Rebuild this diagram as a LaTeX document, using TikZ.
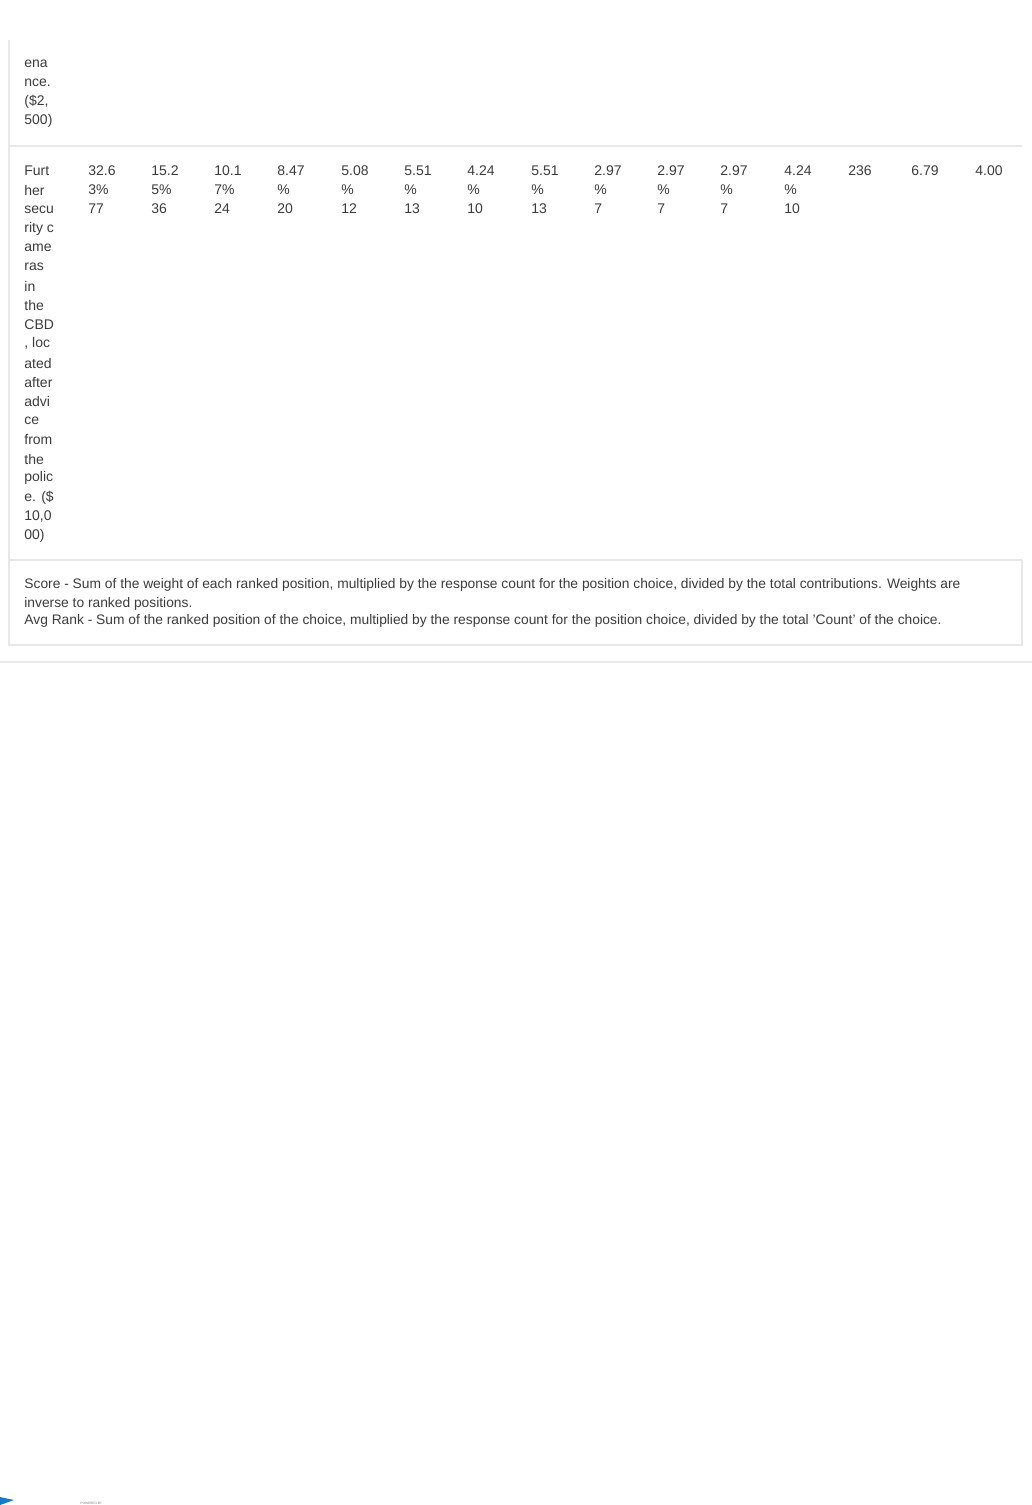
\documentclass[tikz,border=0pt]{standalone}
\usepackage{fontspec}
\setmainfont{Liberation Sans}
\definecolor{rulegray}{RGB}{232,232,236}
\definecolor{txtgray}{RGB}{60,60,60}
\tikzset{
  cell/.style={anchor=west, inner sep=0pt, font=\fontsize{7}{8}\selectfont, text=txtgray},
  note/.style={anchor=west, inner sep=0pt, font=\fontsize{6.9}{7}\selectfont, text=txtgray},
  rule/.style={draw=rulegray, line width=0.8pt}
}
\begin{document}
\begin{tikzpicture}[x=0.5pt,y=-0.5pt]
        \useasboundingbox (0,0) rectangle (1032,1505);
        \coordinate (TL) at (9,40);
        \coordinate (BL) at (9,645);
        \coordinate (BR) at (1022,645);
        \draw[rule] (TL) -- (BL) -- (BR) -- (1022,560);
        \draw[rule] (9,146) -- (1022,146);
        \draw[rule] (9,560) -- (1022,560);
        \draw[rule] (0,662) -- (1032,662);

        % first row tail
        \foreach \t [count=\i from 0] in {ena,nce.,{(\$2,},500)}
          \node[cell] (top\i) at (24,{64+\i*19}) {\t};

        % label column
        \foreach \t [count=\i from 0] in {Furt,her,secu,rity c,ame,ras,in,the,CBD,{, loc},ated,after,advi,ce,from,the,polic,e. (\$,{10,0},00)}
          \node[cell] (lab\i) at (24,{171+\i*19.2}) {\t};

        % percentages and counts
        \foreach \x/\a/\b/\c in {88/32.6/3\%/77, 151/15.2/5\%/36, 214/10.1/7\%/24,
            277/8.47/\%/20, 341/5.08/\%/12, 404/5.51/\%/13, 467/4.24/\%/10,
            531/5.51/\%/13, 594/2.97/\%/7, 657/2.97/\%/7, 720/2.97/\%/7, 784/4.24/\%/10} {
          \node[cell] at (\x,171) {\a};
          \node[cell] at (\x,190) {\b};
          \node[cell] at (\x,209) {\c};
        }
        \node[cell] (total) at (848,171) {236};
        \node[cell] (score) at (911,171) {6.79};
        \node[cell] (rank) at (975,171) {4.00};

        % notes
        \node[note] (n1) at (24,585) {Score - Sum of the weight of each ranked position, multiplied by the response count for the position choice, divided by the total contributions. Weights are};
        \node[note] (n2) at (24,604) {inverse to ranked positions.};
        \node[note] (n3) at (24,621) {Avg Rank - Sum of the ranked position of the choice, multiplied by the response count for the position choice, divided by the total 'Count' of the choice.};

        % footer
        \fill[cyan!60!blue] (0,1497) -- (14,1500) -- (0,1505) -- cycle;
        \node[anchor=west, inner sep=0pt, font=\fontsize{1.6}{2}\selectfont, text=gray] (pow) at (80,1503) {POWERED BY};
\end{tikzpicture}
\end{document}
